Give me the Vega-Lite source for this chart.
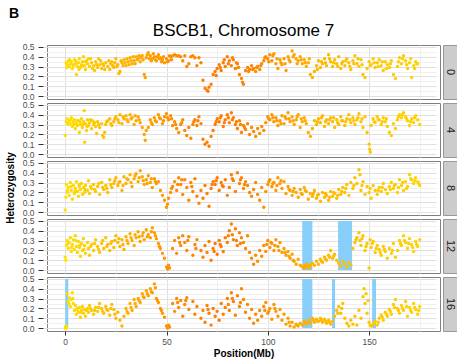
{
"$schema": "https://vega.github.io/schema/vega-lite/v6.json",
"padding": {"left": 5, "top": 7, "right": 0, "bottom": 2},
"title": {"text": "B", "anchor": "start", "frame": "bounds", "fontSize": 14, "fontWeight": "bold", "color": "#000000", "offset": 0, "dx": 4},
"spacing": 4,
"datasets": {
"blue": [
{"g":12,"x":117,"xe":122,"y":0,"ye":0.5},
{"g":12,"x":134.7,"xe":141.6,"y":0,"ye":0.5},
{"g":16,"x":0,"xe":1.5,"y":0,"ye":0.5},
{"g":16,"x":117,"xe":122,"y":0,"ye":0.5},
{"g":16,"x":131.7,"xe":133.2,"y":0,"ye":0.5},
{"g":16,"x":151.5,"xe":153.4,"y":0,"ye":0.5}
],
"g0": [
{"x":0.5,"y":0.34},{"x":1,"y":0.32},{"x":1.5,"y":0.36},{"x":2,"y":0.30},{"x":2.5,"y":0.33},{"x":3,"y":0.35},{"x":3.5,"y":0.28},{"x":4,"y":0.31},{"x":4.5,"y":0.37},{"x":5,"y":0.33},{"x":5.5,"y":0.22},{"x":6,"y":0.30},{"x":6.5,"y":0.34},{"x":7,"y":0.38},{"x":7.5,"y":0.29},{"x":8,"y":0.32},{"x":8.5,"y":0.35},{"x":9,"y":0.40},{"x":9.5,"y":0.31},{"x":10,"y":0.27},{"x":10.5,"y":0.36},{"x":11,"y":0.33},{"x":12,"y":0.30},{"x":12.5,"y":0.38},{"x":13,"y":0.34},{"x":14,"y":0.31},{"x":14.5,"y":0.26},{"x":15,"y":0.35},{"x":16,"y":0.29},{"x":17,"y":0.32},{"x":17.5,"y":0.36},{"x":18,"y":0.28},{"x":19,"y":0.31},{"x":20,"y":0.34},{"x":21,"y":0.30},{"x":22,"y":0.27},{"x":22.5,"y":0.33},{"x":23,"y":0.35},{"x":24,"y":0.29},{"x":25,"y":0.38},{"x":26,"y":0.32},{"x":26.5,"y":0.23},{"x":27,"y":0.25},{"x":28,"y":0.34},{"x":29,"y":0.37},{"x":30,"y":0.31},{"x":31,"y":0.35},{"x":32,"y":0.39},{"x":33,"y":0.33},{"x":34,"y":0.36},{"x":35,"y":0.40},{"x":36,"y":0.38},{"x":37,"y":0.35},{"x":38,"y":0.41},{"x":38.5,"y":0.37},{"x":39,"y":0.22},{"x":39.5,"y":0.19},{"x":40,"y":0.39},{"x":41,"y":0.44},{"x":42,"y":0.41},{"x":43,"y":0.38},{"x":44,"y":0.40},{"x":45,"y":0.36},{"x":46,"y":0.42},{"x":47,"y":0.39},{"x":48,"y":0.37},{"x":49,"y":0.34},{"x":50,"y":0.38},{"x":51,"y":0.36},{"x":52,"y":0.40},{"x":53,"y":0.41},{"x":54,"y":0.42},{"x":55,"y":0.41},{"x":57,"y":0.40},{"x":58,"y":0.36},{"x":59,"y":0.41},{"x":61,"y":0.33},{"x":62,"y":0.40},{"x":63,"y":0.41},{"x":64,"y":0.39},{"x":65,"y":0.31},{"x":67,"y":0.34},{"x":68,"y":0.16},{"x":69,"y":0.08},{"x":70,"y":0.06},{"x":70.5,"y":0.05},{"x":71,"y":0.09},{"x":72,"y":0.12},{"x":73,"y":0.22},{"x":74,"y":0.25},{"x":75,"y":0.28},{"x":76,"y":0.32},{"x":77,"y":0.26},{"x":78,"y":0.34},{"x":79,"y":0.30},{"x":80,"y":0.40},{"x":81,"y":0.36},{"x":82,"y":0.31},{"x":83,"y":0.37},{"x":84,"y":0.28},{"x":85,"y":0.33},{"x":86,"y":0.22},{"x":87,"y":0.18},{"x":87.5,"y":0.14},{"x":88,"y":0.12},{"x":89,"y":0.26},{"x":90,"y":0.29},{"x":91,"y":0.27},{"x":92,"y":0.31},{"x":93,"y":0.28},{"x":94,"y":0.25},{"x":95,"y":0.30},{"x":96,"y":0.27},{"x":97,"y":0.33},{"x":98,"y":0.36},{"x":99,"y":0.40},{"x":100,"y":0.38},{"x":101,"y":0.42},{"x":102,"y":0.36},{"x":103,"y":0.43},{"x":104,"y":0.33},{"x":105,"y":0.28},{"x":106,"y":0.37},{"x":107,"y":0.32},{"x":108,"y":0.38},{"x":109,"y":0.26},{"x":110,"y":0.40},{"x":111,"y":0.35},{"x":112,"y":0.46},{"x":113,"y":0.42},{"x":114,"y":0.38},{"x":115,"y":0.36},{"x":116,"y":0.40},{"x":117,"y":0.33},{"x":118,"y":0.37},{"x":119,"y":0.30},{"x":120,"y":0.34},{"x":121,"y":0.22},{"x":122,"y":0.19},{"x":123,"y":0.25},{"x":124,"y":0.31},{"x":125,"y":0.36},{"x":126,"y":0.29},{"x":127,"y":0.33},{"x":128,"y":0.38},{"x":129,"y":0.31},{"x":130,"y":0.42},{"x":131,"y":0.35},{"x":132,"y":0.30},{"x":133,"y":0.37},{"x":134,"y":0.33},{"x":135,"y":0.40},{"x":136,"y":0.28},{"x":137,"y":0.35},{"x":138,"y":0.31},{"x":139,"y":0.38},{"x":140,"y":0.34},{"x":141,"y":0.27},{"x":142,"y":0.36},{"x":143,"y":0.41},{"x":144,"y":0.33},{"x":145,"y":0.30},{"x":146,"y":0.37},{"x":147,"y":0.22},{"x":148,"y":0.19},{"x":149,"y":0.28},{"x":150,"y":0.35},{"x":151,"y":0.32},{"x":152,"y":0.38},{"x":153,"y":0.29},{"x":154,"y":0.34},{"x":155,"y":0.37},{"x":156,"y":0.31},{"x":157,"y":0.26},{"x":158,"y":0.35},{"x":159,"y":0.32},{"x":160,"y":0.29},{"x":161,"y":0.36},{"x":162,"y":0.22},{"x":163,"y":0.18},{"x":164,"y":0.30},{"x":165,"y":0.39},{"x":166,"y":0.33},{"x":167,"y":0.41},{"x":168,"y":0.36},{"x":169,"y":0.28},{"x":170,"y":0.34},{"x":171,"y":0.19},{"x":172,"y":0.31},{"x":173,"y":0.35},{"x":174,"y":0.33},
{"x":0.8,"y":0.29},{"x":2.2,"y":0.37},{"x":3.8,"y":0.32},{"x":5.2,"y":0.36},{"x":6.8,"y":0.27},{"x":8.2,"y":0.30},{"x":9.8,"y":0.35},{"x":11.5,"y":0.38},{"x":13.5,"y":0.28},{"x":15.5,"y":0.32},{"x":16.5,"y":0.38},{"x":18.5,"y":0.33},{"x":19.5,"y":0.27},{"x":21.5,"y":0.36},{"x":23.5,"y":0.31},{"x":24.5,"y":0.34},{"x":25.5,"y":0.30},{"x":27.5,"y":0.36},{"x":28.5,"y":0.31},{"x":29.5,"y":0.34},{"x":30.5,"y":0.38},{"x":31.5,"y":0.32},{"x":32.5,"y":0.36},{"x":33.5,"y":0.40},{"x":34.5,"y":0.33},{"x":35.5,"y":0.37},{"x":36.5,"y":0.41},{"x":37.5,"y":0.39},{"x":40.5,"y":0.42},{"x":41.5,"y":0.38},{"x":42.5,"y":0.36},{"x":43.5,"y":0.43},{"x":44.5,"y":0.37},{"x":45.5,"y":0.40},{"x":46.5,"y":0.38},{"x":47.5,"y":0.35},{"x":48.5,"y":0.40},{"x":50.5,"y":0.35},{"x":51.5,"y":0.41},{"x":52.5,"y":0.37},{"x":56,"y":0.41},{"x":60,"y":0.30},{"x":66,"y":0.39},{"x":74.5,"y":0.21},{"x":76.5,"y":0.29},{"x":78.5,"y":0.37},{"x":80.5,"y":0.33},{"x":82.5,"y":0.39},{"x":84.5,"y":0.34},{"x":85.5,"y":0.29},{"x":90.5,"y":0.25},{"x":92.5,"y":0.27},{"x":94.5,"y":0.29},{"x":96.5,"y":0.31},{"x":98.5,"y":0.39},{"x":100.5,"y":0.35},{"x":102.5,"y":0.41},{"x":104.5,"y":0.38},{"x":106.5,"y":0.34},{"x":108.5,"y":0.33},{"x":110.5,"y":0.37},{"x":112.5,"y":0.40},{"x":114.5,"y":0.33},{"x":116.5,"y":0.37},{"x":118.5,"y":0.34},{"x":120.5,"y":0.38},{"x":124.5,"y":0.27},{"x":126.5,"y":0.35},{"x":128.5,"y":0.34},{"x":130.5,"y":0.38},{"x":132.5,"y":0.34},{"x":134.5,"y":0.30},{"x":136.5,"y":0.33},{"x":138.5,"y":0.36},{"x":140.5,"y":0.30},{"x":142.5,"y":0.33},{"x":144.5,"y":0.38},{"x":146.5,"y":0.32},{"x":150.5,"y":0.31},{"x":152.5,"y":0.34},{"x":154.5,"y":0.30},{"x":156.5,"y":0.35},{"x":158.5,"y":0.28},{"x":160.5,"y":0.33},{"x":164.5,"y":0.35},{"x":166.5,"y":0.38},{"x":168.5,"y":0.32},{"x":170.5,"y":0.38},{"x":172.5,"y":0.28},{"x":173.5,"y":0.33}
],
"g4": [
{"x":0,"y":0.19},{"x":0.5,"y":0.33},{"x":1,"y":0.36},{"x":1.5,"y":0.30},{"x":2,"y":0.34},{"x":2.5,"y":0.31},{"x":3,"y":0.37},{"x":3.5,"y":0.28},{"x":4,"y":0.33},{"x":4.5,"y":0.35},{"x":5,"y":0.26},{"x":5.5,"y":0.31},{"x":6,"y":0.29},{"x":6.5,"y":0.34},{"x":7,"y":0.22},{"x":7.5,"y":0.30},{"x":8,"y":0.36},{"x":8.5,"y":0.27},{"x":9,"y":0.33},{"x":9.4,"y":0.44},{"x":9.6,"y":0.12},{"x":10,"y":0.31},{"x":10.5,"y":0.24},{"x":11,"y":0.35},{"x":11.5,"y":0.29},{"x":12,"y":0.32},{"x":13,"y":0.26},{"x":13.5,"y":0.34},{"x":14,"y":0.30},{"x":15,"y":0.28},{"x":15.5,"y":0.21},{"x":16,"y":0.33},{"x":17,"y":0.27},{"x":18,"y":0.31},{"x":18.5,"y":0.19},{"x":19,"y":0.17},{"x":19.5,"y":0.22},{"x":20,"y":0.30},{"x":21,"y":0.34},{"x":22,"y":0.36},{"x":23,"y":0.29},{"x":24,"y":0.33},{"x":25,"y":0.38},{"x":26,"y":0.35},{"x":27,"y":0.40},{"x":28,"y":0.31},{"x":29,"y":0.36},{"x":30,"y":0.39},{"x":31,"y":0.33},{"x":32,"y":0.40},{"x":33,"y":0.37},{"x":34,"y":0.30},{"x":35,"y":0.34},{"x":36,"y":0.38},{"x":37,"y":0.32},{"x":38,"y":0.27},{"x":39,"y":0.20},{"x":39.5,"y":0.14},{"x":40,"y":0.24},{"x":41,"y":0.27},{"x":42,"y":0.35},{"x":43,"y":0.30},{"x":44,"y":0.37},{"x":45,"y":0.33},{"x":46,"y":0.40},{"x":47,"y":0.36},{"x":48,"y":0.31},{"x":49,"y":0.38},{"x":50,"y":0.41},{"x":51,"y":0.35},{"x":52,"y":0.39},{"x":53,"y":0.29},{"x":54,"y":0.33},{"x":55,"y":0.26},{"x":56,"y":0.22},{"x":57,"y":0.30},{"x":58,"y":0.35},{"x":59,"y":0.24},{"x":60,"y":0.19},{"x":61,"y":0.27},{"x":62,"y":0.16},{"x":63,"y":0.30},{"x":64,"y":0.35},{"x":65,"y":0.29},{"x":66,"y":0.38},{"x":67,"y":0.31},{"x":68,"y":0.15},{"x":69,"y":0.10},{"x":70,"y":0.12},{"x":71,"y":0.08},{"x":72,"y":0.18},{"x":73,"y":0.24},{"x":74,"y":0.30},{"x":75,"y":0.36},{"x":76,"y":0.33},{"x":77,"y":0.39},{"x":78,"y":0.28},{"x":79,"y":0.35},{"x":80,"y":0.40},{"x":81,"y":0.32},{"x":82,"y":0.42},{"x":83,"y":0.37},{"x":84,"y":0.30},{"x":85,"y":0.26},{"x":86,"y":0.34},{"x":87,"y":0.22},{"x":88,"y":0.29},{"x":89,"y":0.25},{"x":90,"y":0.31},{"x":91,"y":0.20},{"x":92,"y":0.27},{"x":93,"y":0.23},{"x":94,"y":0.18},{"x":95,"y":0.26},{"x":96,"y":0.21},{"x":97,"y":0.28},{"x":98,"y":0.24},{"x":99,"y":0.32},{"x":100,"y":0.38},{"x":101,"y":0.35},{"x":102,"y":0.40},{"x":103,"y":0.33},{"x":104,"y":0.37},{"x":105,"y":0.29},{"x":106,"y":0.34},{"x":107,"y":0.39},{"x":108,"y":0.31},{"x":109,"y":0.36},{"x":110,"y":0.42},{"x":111,"y":0.33},{"x":112,"y":0.38},{"x":113,"y":0.30},{"x":114,"y":0.35},{"x":115,"y":0.40},{"x":116,"y":0.27},{"x":117,"y":0.33},{"x":118,"y":0.37},{"x":119,"y":0.31},{"x":120,"y":0.22},{"x":121,"y":0.18},{"x":122,"y":0.26},{"x":123,"y":0.34},{"x":124,"y":0.30},{"x":125,"y":0.36},{"x":126,"y":0.32},{"x":127,"y":0.39},{"x":128,"y":0.28},{"x":129,"y":0.35},{"x":130,"y":0.31},{"x":131,"y":0.37},{"x":132,"y":0.33},{"x":133,"y":0.27},{"x":134,"y":0.35},{"x":135,"y":0.30},{"x":136,"y":0.38},{"x":137,"y":0.34},{"x":138,"y":0.29},{"x":139,"y":0.36},{"x":140,"y":0.40},{"x":141,"y":0.32},{"x":142,"y":0.37},{"x":143,"y":0.30},{"x":144,"y":0.35},{"x":145,"y":0.41},{"x":146,"y":0.33},{"x":147,"y":0.27},{"x":148,"y":0.38},{"x":149,"y":0.22},{"x":150,"y":0.10},{"x":150.3,"y":0.05},{"x":150.6,"y":0.02},{"x":151,"y":0.29},{"x":152,"y":0.36},{"x":153,"y":0.32},{"x":154,"y":0.38},{"x":155,"y":0.35},{"x":156,"y":0.30},{"x":157,"y":0.37},{"x":158,"y":0.33},{"x":159,"y":0.28},{"x":160,"y":0.22},{"x":161,"y":0.19},{"x":162,"y":0.31},{"x":163,"y":0.26},{"x":164,"y":0.35},{"x":165,"y":0.40},{"x":166,"y":0.37},{"x":167,"y":0.42},{"x":168,"y":0.38},{"x":169,"y":0.34},{"x":170,"y":0.29},{"x":171,"y":0.36},{"x":172,"y":0.32},{"x":173,"y":0.39},{"x":174,"y":0.35},{"x":175,"y":0.30},
{"x":1.2,"y":0.31},{"x":2.8,"y":0.35},{"x":4.2,"y":0.30},{"x":5.8,"y":0.34},{"x":7.2,"y":0.33},{"x":8.8,"y":0.30},{"x":10.8,"y":0.28},{"x":12.5,"y":0.35},{"x":14.5,"y":0.32},{"x":16.5,"y":0.30},{"x":20.5,"y":0.33},{"x":22.5,"y":0.31},{"x":24.5,"y":0.36},{"x":26.5,"y":0.32},{"x":28.5,"y":0.38},{"x":30.5,"y":0.35},{"x":32.5,"y":0.36},{"x":34.5,"y":0.39},{"x":36.5,"y":0.35},{"x":42.5,"y":0.32},{"x":44.5,"y":0.34},{"x":46.5,"y":0.37},{"x":48.5,"y":0.34},{"x":50.5,"y":0.37},{"x":52.5,"y":0.36},{"x":54.5,"y":0.30},{"x":57.5,"y":0.32},{"x":63.5,"y":0.33},{"x":65.5,"y":0.34},{"x":74.5,"y":0.33},{"x":76.5,"y":0.37},{"x":78.5,"y":0.32},{"x":80.5,"y":0.37},{"x":82.5,"y":0.35},{"x":84.5,"y":0.33},{"x":86.5,"y":0.30},{"x":88.5,"y":0.27},{"x":100.5,"y":0.36},{"x":102.5,"y":0.37},{"x":104.5,"y":0.34},{"x":106.5,"y":0.31},{"x":108.5,"y":0.38},{"x":110.5,"y":0.36},{"x":112.5,"y":0.34},{"x":114.5,"y":0.38},{"x":116.5,"y":0.36},{"x":118.5,"y":0.34},{"x":124.5,"y":0.33},{"x":126.5,"y":0.37},{"x":128.5,"y":0.33},{"x":130.5,"y":0.35},{"x":132.5,"y":0.37},{"x":134.5,"y":0.32},{"x":136.5,"y":0.34},{"x":138.5,"y":0.33},{"x":140.5,"y":0.35},{"x":142.5,"y":0.34},{"x":144.5,"y":0.37},{"x":146.5,"y":0.36},{"x":152.5,"y":0.33},{"x":154.5,"y":0.35},{"x":156.5,"y":0.33},{"x":158.5,"y":0.36},{"x":164.5,"y":0.38},{"x":166.5,"y":0.40},{"x":168.5,"y":0.36},{"x":170.5,"y":0.33},{"x":172.5,"y":0.37}
],
"g8": [
{"x":0,"y":0.02},{"x":0.3,"y":0.15},{"x":0.6,"y":0.28},{"x":1,"y":0.20},{"x":1.5,"y":0.25},{"x":2,"y":0.17},{"x":2.5,"y":0.30},{"x":3,"y":0.22},{"x":3.5,"y":0.13},{"x":4,"y":0.27},{"x":4.5,"y":0.19},{"x":5,"y":0.24},{"x":5.5,"y":0.31},{"x":6,"y":0.21},{"x":6.5,"y":0.16},{"x":7,"y":0.26},{"x":7.5,"y":0.23},{"x":8,"y":0.29},{"x":8.5,"y":0.18},{"x":9,"y":0.25},{"x":9.5,"y":0.20},{"x":10,"y":0.27},{"x":11,"y":0.22},{"x":11.5,"y":0.32},{"x":12,"y":0.19},{"x":13,"y":0.24},{"x":14,"y":0.28},{"x":15,"y":0.21},{"x":16,"y":0.26},{"x":17,"y":0.18},{"x":18,"y":0.30},{"x":19,"y":0.23},{"x":20,"y":0.27},{"x":21,"y":0.20},{"x":22,"y":0.33},{"x":23,"y":0.25},{"x":24,"y":0.29},{"x":25,"y":0.35},{"x":26,"y":0.27},{"x":27,"y":0.31},{"x":28,"y":0.22},{"x":29,"y":0.36},{"x":30,"y":0.29},{"x":31,"y":0.33},{"x":32,"y":0.38},{"x":33,"y":0.26},{"x":34,"y":0.34},{"x":35,"y":0.39},{"x":36,"y":0.31},{"x":37,"y":0.42},{"x":38,"y":0.36},{"x":39,"y":0.28},{"x":40,"y":0.33},{"x":41,"y":0.37},{"x":42,"y":0.30},{"x":43,"y":0.25},{"x":44,"y":0.34},{"x":45,"y":0.29},{"x":46,"y":0.31},{"x":47,"y":0.22},{"x":48,"y":0.17},{"x":49,"y":0.12},{"x":50,"y":0.05},{"x":50.5,"y":0.08},{"x":51,"y":0.14},{"x":52,"y":0.20},{"x":53,"y":0.26},{"x":54,"y":0.31},{"x":55,"y":0.22},{"x":56,"y":0.35},{"x":57,"y":0.28},{"x":58,"y":0.18},{"x":59,"y":0.33},{"x":60,"y":0.25},{"x":61,"y":0.12},{"x":62,"y":0.30},{"x":63,"y":0.21},{"x":64,"y":0.34},{"x":65,"y":0.16},{"x":66,"y":0.09},{"x":67,"y":0.22},{"x":68,"y":0.14},{"x":69,"y":0.27},{"x":70,"y":0.19},{"x":71,"y":0.06},{"x":72,"y":0.24},{"x":73,"y":0.31},{"x":74,"y":0.28},{"x":75,"y":0.35},{"x":76,"y":0.22},{"x":77,"y":0.30},{"x":78,"y":0.26},{"x":79,"y":0.33},{"x":80,"y":0.17},{"x":81,"y":0.25},{"x":82,"y":0.38},{"x":83,"y":0.32},{"x":84,"y":0.21},{"x":85,"y":0.40},{"x":86,"y":0.29},{"x":87,"y":0.35},{"x":88,"y":0.24},{"x":89,"y":0.31},{"x":90,"y":0.27},{"x":91,"y":0.20},{"x":92,"y":0.16},{"x":93,"y":0.23},{"x":94,"y":0.30},{"x":95,"y":0.18},{"x":96,"y":0.12},{"x":97,"y":0.25},{"x":98,"y":0.05},{"x":99,"y":0.21},{"x":100,"y":0.28},{"x":101,"y":0.33},{"x":102,"y":0.26},{"x":103,"y":0.30},{"x":104,"y":0.22},{"x":105,"y":0.35},{"x":106,"y":0.29},{"x":107,"y":0.24},{"x":108,"y":0.31},{"x":109,"y":0.19},{"x":110,"y":0.26},{"x":111,"y":0.22},{"x":112,"y":0.17},{"x":113,"y":0.24},{"x":114,"y":0.20},{"x":115,"y":0.15},{"x":116,"y":0.23},{"x":117,"y":0.18},{"x":118,"y":0.25},{"x":119,"y":0.21},{"x":120,"y":0.13},{"x":121,"y":0.19},{"x":122,"y":0.16},{"x":123,"y":0.22},{"x":124,"y":0.14},{"x":125,"y":0.18},{"x":126,"y":0.11},{"x":127,"y":0.20},{"x":128,"y":0.15},{"x":129,"y":0.17},{"x":130,"y":0.12},{"x":131,"y":0.21},{"x":132,"y":0.16},{"x":133,"y":0.19},{"x":134,"y":0.14},{"x":135,"y":0.23},{"x":136,"y":0.18},{"x":137,"y":0.25},{"x":138,"y":0.20},{"x":139,"y":0.28},{"x":140,"y":0.17},{"x":141,"y":0.30},{"x":142,"y":0.24},{"x":143,"y":0.35},{"x":144,"y":0.29},{"x":145,"y":0.43},{"x":145.5,"y":0.38},{"x":146,"y":0.22},{"x":147,"y":0.31},{"x":148,"y":0.18},{"x":149,"y":0.26},{"x":150,"y":0.20},{"x":151,"y":0.14},{"x":152,"y":0.27},{"x":153,"y":0.22},{"x":154,"y":0.18},{"x":155,"y":0.25},{"x":156,"y":0.21},{"x":157,"y":0.29},{"x":158,"y":0.23},{"x":159,"y":0.19},{"x":160,"y":0.26},{"x":161,"y":0.30},{"x":162,"y":0.24},{"x":163,"y":0.28},{"x":164,"y":0.20},{"x":165,"y":0.33},{"x":166,"y":0.27},{"x":167,"y":0.22},{"x":168,"y":0.31},{"x":169,"y":0.26},{"x":170,"y":0.38},{"x":171,"y":0.33},{"x":172,"y":0.29},{"x":173,"y":0.35},{"x":174,"y":0.31},{"x":175,"y":0.27},
{"x":1.2,"y":0.22},{"x":2.8,"y":0.26},{"x":4.8,"y":0.21},{"x":6.8,"y":0.28},{"x":9.8,"y":0.23},{"x":12.5,"y":0.26},{"x":14.5,"y":0.23},{"x":16.5,"y":0.29},{"x":18.5,"y":0.25},{"x":20.5,"y":0.24},{"x":22.5,"y":0.28},{"x":24.5,"y":0.32},{"x":26.5,"y":0.30},{"x":28.5,"y":0.27},{"x":30.5,"y":0.34},{"x":32.5,"y":0.30},{"x":34.5,"y":0.37},{"x":36.5,"y":0.35},{"x":38.5,"y":0.32},{"x":40.5,"y":0.29},{"x":42.5,"y":0.34},{"x":44.5,"y":0.31},{"x":52.5,"y":0.24},{"x":55.5,"y":0.28},{"x":57.5,"y":0.33},{"x":62.5,"y":0.26},{"x":72.5,"y":0.28},{"x":74.5,"y":0.32},{"x":77.5,"y":0.27},{"x":82.5,"y":0.34},{"x":86.5,"y":0.33},{"x":88.5,"y":0.28},{"x":100.5,"y":0.31},{"x":102.5,"y":0.29},{"x":104.5,"y":0.27},{"x":106.5,"y":0.32},{"x":110.5,"y":0.23},{"x":112.5,"y":0.21},{"x":116.5,"y":0.19},{"x":118.5,"y":0.22},{"x":122.5,"y":0.19},{"x":124.5,"y":0.17},{"x":128.5,"y":0.19},{"x":130.5,"y":0.15},{"x":132.5,"y":0.20},{"x":134.5,"y":0.17},{"x":136.5,"y":0.21},{"x":138.5,"y":0.24},{"x":142.5,"y":0.27},{"x":146.5,"y":0.27},{"x":150.5,"y":0.24},{"x":154.5,"y":0.22},{"x":156.5,"y":0.25},{"x":160.5,"y":0.23},{"x":162.5,"y":0.27},{"x":164.5,"y":0.25},{"x":166.5,"y":0.30},{"x":168.5,"y":0.24},{"x":170.5,"y":0.34},{"x":172.5,"y":0.32},{"x":174.5,"y":0.29}
],
"g12": [
{"x":0,"y":0.13},{"x":0.3,"y":0.10},{"x":0.6,"y":0.25},{"x":1,"y":0.30},{"x":1.5,"y":0.22},{"x":2,"y":0.28},{"x":2.5,"y":0.33},{"x":3,"y":0.19},{"x":3.5,"y":0.26},{"x":4,"y":0.31},{"x":4.5,"y":0.21},{"x":5,"y":0.35},{"x":5.5,"y":0.24},{"x":6,"y":0.18},{"x":6.5,"y":0.29},{"x":7,"y":0.23},{"x":7.5,"y":0.14},{"x":8,"y":0.27},{"x":8.5,"y":0.20},{"x":9,"y":0.32},{"x":9.5,"y":0.25},{"x":10,"y":0.17},{"x":11,"y":0.28},{"x":11.5,"y":0.22},{"x":12,"y":0.15},{"x":13,"y":0.26},{"x":14,"y":0.20},{"x":15,"y":0.31},{"x":16,"y":0.24},{"x":17,"y":0.18},{"x":18,"y":0.27},{"x":19,"y":0.22},{"x":20,"y":0.33},{"x":21,"y":0.26},{"x":22,"y":0.20},{"x":23,"y":0.29},{"x":24,"y":0.23},{"x":25,"y":0.35},{"x":26,"y":0.28},{"x":27,"y":0.24},{"x":28,"y":0.31},{"x":29,"y":0.21},{"x":30,"y":0.34},{"x":31,"y":0.27},{"x":32,"y":0.37},{"x":33,"y":0.30},{"x":34,"y":0.25},{"x":35,"y":0.33},{"x":36,"y":0.39},{"x":37,"y":0.29},{"x":38,"y":0.35},{"x":39,"y":0.31},{"x":40,"y":0.41},{"x":41,"y":0.36},{"x":42,"y":0.33},{"x":43,"y":0.43},{"x":44,"y":0.38},{"x":45,"y":0.32},{"x":46,"y":0.27},{"x":47,"y":0.22},{"x":48,"y":0.17},{"x":49,"y":0.12},{"x":50,"y":0.03},{"x":50.5,"y":0.01},{"x":51,"y":0.05},{"x":51.5,"y":0.02},{"x":53,"y":0.22},{"x":54,"y":0.30},{"x":55,"y":0.17},{"x":56,"y":0.33},{"x":57,"y":0.25},{"x":58,"y":0.35},{"x":59,"y":0.28},{"x":60,"y":0.20},{"x":61,"y":0.34},{"x":63,"y":0.15},{"x":64,"y":0.26},{"x":65,"y":0.31},{"x":67,"y":0.20},{"x":68,"y":0.13},{"x":69,"y":0.25},{"x":70,"y":0.18},{"x":71,"y":0.29},{"x":72,"y":0.10},{"x":73,"y":0.22},{"x":74,"y":0.27},{"x":75,"y":0.16},{"x":76,"y":0.30},{"x":77,"y":0.24},{"x":78,"y":0.19},{"x":79,"y":0.33},{"x":80,"y":0.28},{"x":81,"y":0.40},{"x":82,"y":0.47},{"x":82.5,"y":0.36},{"x":83,"y":0.31},{"x":84,"y":0.42},{"x":85,"y":0.25},{"x":86,"y":0.38},{"x":87,"y":0.33},{"x":88,"y":0.28},{"x":89,"y":0.22},{"x":90,"y":0.35},{"x":91,"y":0.18},{"x":92,"y":0.12},{"x":93,"y":0.06},{"x":94,"y":0.15},{"x":95,"y":0.09},{"x":96,"y":0.20},{"x":97,"y":0.14},{"x":98,"y":0.25},{"x":99,"y":0.19},{"x":100,"y":0.30},{"x":101,"y":0.23},{"x":102,"y":0.27},{"x":103,"y":0.20},{"x":104,"y":0.31},{"x":105,"y":0.24},{"x":106,"y":0.28},{"x":107,"y":0.18},{"x":108,"y":0.22},{"x":109,"y":0.15},{"x":110,"y":0.19},{"x":111,"y":0.12},{"x":112,"y":0.16},{"x":113,"y":0.09},{"x":114,"y":0.06},{"x":115,"y":0.11},{"x":116,"y":0.05},{"x":117,"y":0.03},{"x":117.5,"y":0.04},{"x":118,"y":0.02},{"x":118.5,"y":0.05},{"x":119,"y":0.03},{"x":119.5,"y":0.06},{"x":120,"y":0.04},{"x":120.5,"y":0.02},{"x":121,"y":0.05},{"x":122,"y":0.07},{"x":123,"y":0.05},{"x":124,"y":0.09},{"x":125,"y":0.06},{"x":126,"y":0.11},{"x":127,"y":0.08},{"x":128,"y":0.13},{"x":129,"y":0.10},{"x":130,"y":0.15},{"x":131,"y":0.20},{"x":132,"y":0.12},{"x":133,"y":0.16},{"x":134,"y":0.10},{"x":135,"y":0.07},{"x":136,"y":0.04},{"x":137,"y":0.09},{"x":138,"y":0.06},{"x":139,"y":0.03},{"x":140,"y":0.08},{"x":141,"y":0.05},{"x":142,"y":0.22},{"x":143,"y":0.28},{"x":144,"y":0.33},{"x":145,"y":0.38},{"x":145.5,"y":0.30},{"x":146,"y":0.25},{"x":147,"y":0.35},{"x":148,"y":0.20},{"x":149,"y":0.27},{"x":150,"y":0.02},{"x":150.5,"y":0.31},{"x":151,"y":0.23},{"x":152,"y":0.29},{"x":153,"y":0.18},{"x":154,"y":0.25},{"x":155,"y":0.21},{"x":156,"y":0.15},{"x":157,"y":0.24},{"x":158,"y":0.19},{"x":159,"y":0.12},{"x":160,"y":0.22},{"x":161,"y":0.17},{"x":162,"y":0.27},{"x":163,"y":0.13},{"x":164,"y":0.20},{"x":165,"y":0.30},{"x":166,"y":0.25},{"x":167,"y":0.35},{"x":168,"y":0.28},{"x":169,"y":0.22},{"x":170,"y":0.32},{"x":171,"y":0.26},{"x":172,"y":0.19},{"x":173,"y":0.29},{"x":174,"y":0.24},{"x":175,"y":0.31},
{"x":1.2,"y":0.27},{"x":3.2,"y":0.23},{"x":5.2,"y":0.30},{"x":7.2,"y":0.25},{"x":9.2,"y":0.21},{"x":12.5,"y":0.24},{"x":14.5,"y":0.27},{"x":16.5,"y":0.21},{"x":18.5,"y":0.30},{"x":20.5,"y":0.24},{"x":22.5,"y":0.27},{"x":24.5,"y":0.30},{"x":26.5,"y":0.32},{"x":28.5,"y":0.26},{"x":30.5,"y":0.30},{"x":32.5,"y":0.33},{"x":34.5,"y":0.36},{"x":36.5,"y":0.34},{"x":38.5,"y":0.38},{"x":40.5,"y":0.34},{"x":42.5,"y":0.39},{"x":44.5,"y":0.35},{"x":46.5,"y":0.24},{"x":56.5,"y":0.28},{"x":60.5,"y":0.30},{"x":64.5,"y":0.22},{"x":73.5,"y":0.19},{"x":76.5,"y":0.26},{"x":80.5,"y":0.35},{"x":84.5,"y":0.30},{"x":86.5,"y":0.27},{"x":99.5,"y":0.26},{"x":101.5,"y":0.28},{"x":103.5,"y":0.25},{"x":105.5,"y":0.20},{"x":108.5,"y":0.18},{"x":110.5,"y":0.14},{"x":112.5,"y":0.10},{"x":126.5,"y":0.09},{"x":128.5,"y":0.11},{"x":130.5,"y":0.13},{"x":132.5,"y":0.14},{"x":143.5,"y":0.31},{"x":146.5,"y":0.32},{"x":148.5,"y":0.24},{"x":151.5,"y":0.27},{"x":153.5,"y":0.22},{"x":155.5,"y":0.18},{"x":157.5,"y":0.21},{"x":161.5,"y":0.20},{"x":165.5,"y":0.27},{"x":167.5,"y":0.30},{"x":169.5,"y":0.27},{"x":171.5,"y":0.23},{"x":173.5,"y":0.26}
],
"g16": [
{"x":0,"y":0.0},{"x":0.2,"y":0.01},{"x":0.4,"y":0.02},{"x":0.6,"y":0.0},{"x":1,"y":0.35},{"x":1.5,"y":0.27},{"x":2,"y":0.31},{"x":2.5,"y":0.22},{"x":3,"y":0.29},{"x":3.5,"y":0.36},{"x":4,"y":0.25},{"x":4.5,"y":0.18},{"x":5,"y":0.23},{"x":5.5,"y":0.14},{"x":6,"y":0.20},{"x":6.5,"y":0.16},{"x":7,"y":0.21},{"x":7.5,"y":0.11},{"x":8,"y":0.18},{"x":8.5,"y":0.22},{"x":9,"y":0.15},{"x":9.5,"y":0.19},{"x":10,"y":0.12},{"x":11,"y":0.20},{"x":11.5,"y":0.16},{"x":12,"y":0.23},{"x":13,"y":0.18},{"x":14,"y":0.14},{"x":15,"y":0.21},{"x":16,"y":0.17},{"x":17,"y":0.25},{"x":18,"y":0.20},{"x":19,"y":0.15},{"x":20,"y":0.22},{"x":21,"y":0.18},{"x":22,"y":0.13},{"x":23,"y":0.24},{"x":24,"y":0.19},{"x":25,"y":0.10},{"x":26,"y":0.16},{"x":27,"y":0.08},{"x":28,"y":0.02},{"x":29,"y":0.12},{"x":30,"y":0.20},{"x":31,"y":0.15},{"x":32,"y":0.25},{"x":33,"y":0.18},{"x":34,"y":0.29},{"x":35,"y":0.22},{"x":36,"y":0.30},{"x":37,"y":0.26},{"x":38,"y":0.35},{"x":39,"y":0.31},{"x":40,"y":0.38},{"x":41,"y":0.33},{"x":42,"y":0.40},{"x":43,"y":0.36},{"x":44,"y":0.45},{"x":44.5,"y":0.41},{"x":45,"y":0.30},{"x":46,"y":0.26},{"x":47,"y":0.20},{"x":48,"y":0.15},{"x":49,"y":0.11},{"x":50,"y":0.02},{"x":50.5,"y":0.0},{"x":51,"y":0.03},{"x":51.5,"y":0.01},{"x":53,"y":0.25},{"x":54,"y":0.17},{"x":55,"y":0.30},{"x":56,"y":0.21},{"x":57,"y":0.28},{"x":58,"y":0.12},{"x":59,"y":0.24},{"x":60,"y":0.31},{"x":61,"y":0.19},{"x":63,"y":0.27},{"x":64,"y":0.14},{"x":65,"y":0.22},{"x":67,"y":0.10},{"x":68,"y":0.18},{"x":69,"y":0.06},{"x":70,"y":0.23},{"x":71,"y":0.15},{"x":72,"y":0.03},{"x":73,"y":0.20},{"x":74,"y":0.12},{"x":75,"y":0.17},{"x":76,"y":0.08},{"x":77,"y":0.25},{"x":78,"y":0.14},{"x":79,"y":0.21},{"x":80,"y":0.30},{"x":81,"y":0.18},{"x":82,"y":0.36},{"x":83,"y":0.27},{"x":84,"y":0.13},{"x":85,"y":0.33},{"x":86,"y":0.22},{"x":87,"y":0.40},{"x":88,"y":0.29},{"x":89,"y":0.16},{"x":90,"y":0.24},{"x":91,"y":0.10},{"x":92,"y":0.19},{"x":93,"y":0.05},{"x":94,"y":0.14},{"x":95,"y":0.08},{"x":96,"y":0.18},{"x":97,"y":0.12},{"x":98,"y":0.22},{"x":99,"y":0.26},{"x":100,"y":0.15},{"x":101,"y":0.20},{"x":102,"y":0.09},{"x":103,"y":0.24},{"x":104,"y":0.17},{"x":105,"y":0.12},{"x":106,"y":0.19},{"x":107,"y":0.08},{"x":108,"y":0.14},{"x":109,"y":0.04},{"x":110,"y":0.10},{"x":111,"y":0.02},{"x":112,"y":0.06},{"x":113,"y":0.01},{"x":114,"y":0.04},{"x":115,"y":0.02},{"x":116,"y":0.05},{"x":117,"y":0.03},{"x":118,"y":0.07},{"x":119,"y":0.04},{"x":120,"y":0.08},{"x":121,"y":0.05},{"x":122,"y":0.10},{"x":123,"y":0.06},{"x":124,"y":0.09},{"x":125,"y":0.07},{"x":126,"y":0.10},{"x":127,"y":0.06},{"x":128,"y":0.09},{"x":129,"y":0.05},{"x":130,"y":0.08},{"x":131,"y":0.04},{"x":132,"y":0.07},{"x":133,"y":0.12},{"x":134,"y":0.18},{"x":135,"y":0.22},{"x":136,"y":0.15},{"x":137,"y":0.25},{"x":138,"y":0.10},{"x":139,"y":0.05},{"x":140,"y":0.02},{"x":141,"y":0.08},{"x":142,"y":0.04},{"x":143,"y":0.12},{"x":144,"y":0.03},{"x":145,"y":0.18},{"x":146,"y":0.10},{"x":147,"y":0.32},{"x":147.5,"y":0.40},{"x":148,"y":0.25},{"x":148.5,"y":0.35},{"x":149,"y":0.15},{"x":149.5,"y":0.28},{"x":150,"y":0.06},{"x":151,"y":0.02},{"x":152,"y":0.04},{"x":153,"y":0.07},{"x":154,"y":0.03},{"x":155,"y":0.10},{"x":156,"y":0.13},{"x":157,"y":0.08},{"x":158,"y":0.16},{"x":159,"y":0.12},{"x":160,"y":0.19},{"x":161,"y":0.14},{"x":162,"y":0.24},{"x":163,"y":0.29},{"x":164,"y":0.20},{"x":165,"y":0.15},{"x":166,"y":0.23},{"x":167,"y":0.18},{"x":168,"y":0.27},{"x":169,"y":0.12},{"x":170,"y":0.21},{"x":171,"y":0.16},{"x":172,"y":0.25},{"x":173,"y":0.19},{"x":174,"y":0.14},{"x":175,"y":0.22},
{"x":1.8,"y":0.25},{"x":3.8,"y":0.30},{"x":5.8,"y":0.19},{"x":7.8,"y":0.16},{"x":10.5,"y":0.18},{"x":12.5,"y":0.20},{"x":14.5,"y":0.18},{"x":16.5,"y":0.21},{"x":18.5,"y":0.17},{"x":20.5,"y":0.19},{"x":22.5,"y":0.20},{"x":24.5,"y":0.14},{"x":30.5,"y":0.17},{"x":32.5,"y":0.21},{"x":34.5,"y":0.25},{"x":36.5,"y":0.28},{"x":38.5,"y":0.32},{"x":40.5,"y":0.35},{"x":42.5,"y":0.37},{"x":45.5,"y":0.28},{"x":47.5,"y":0.18},{"x":55.5,"y":0.26},{"x":59.5,"y":0.28},{"x":70.5,"y":0.19},{"x":80.5,"y":0.24},{"x":82.5,"y":0.30},{"x":86.5,"y":0.26},{"x":98.5,"y":0.18},{"x":100.5,"y":0.17},{"x":103.5,"y":0.20},{"x":110.5,"y":0.06},{"x":114.5,"y":0.03},{"x":118.5,"y":0.05},{"x":120.5,"y":0.06},{"x":122.5,"y":0.08},{"x":124.5,"y":0.07},{"x":126.5,"y":0.08},{"x":128.5,"y":0.07},{"x":130.5,"y":0.06},{"x":134.5,"y":0.15},{"x":136.5,"y":0.20},{"x":150.5,"y":0.03},{"x":152.5,"y":0.05},{"x":154.5,"y":0.06},{"x":156.5,"y":0.11},{"x":158.5,"y":0.14},{"x":160.5,"y":0.17},{"x":162.5,"y":0.21},{"x":164.5,"y":0.18},{"x":166.5,"y":0.20},{"x":168.5,"y":0.22},{"x":170.5,"y":0.18},{"x":172.5,"y":0.21},{"x":174.5,"y":0.18}
]
},
"hconcat": [
{"width": 12, "height": 286, "data": {"values": [{"t": "Heterozygosity"}]}, "mark": {"type": "text", "angle": 270, "fontSize": 10, "fontWeight": "bold", "color": "#000000"}, "encoding": {"text": {"field": "t"}}, "view": {"stroke": null}},
{"spacing": -2, "vconcat": [
{"hconcat": [
{"width": 393, "height": 54,
 "title": {"text": "BSCB1, Chromosome 7", "fontSize": 17, "fontWeight": "normal", "anchor": "middle", "offset": 3, "color": "#000000"},
 "data": {"name": "g0"},
 "mark": {"type": "circle", "size": 12, "opacity": 1},
 "encoding": {
  "x": {"field": "x", "type": "quantitative", "scale": {"domain": [-9, 185], "nice": false, "zero": false}, "axis": {"values": [0,25,50,75,100,125,150,175], "labels": false, "ticks": false, "domain": false, "title": null, "gridColor": {"condition": {"test": "datum.value % 50 === 0", "value": "#e0e0e0"}, "value": "#f0f0f0"}}},
  "y": {"field": "y", "type": "quantitative", "scale": {"domain": [-0.03, 0.52], "nice": false, "zero": false}, "axis": {"values": [0,0.05,0.1,0.15,0.2,0.25,0.3,0.35,0.4,0.45,0.5], "labelExpr": "round(datum.value*20) % 2 === 0 ? format(datum.value, '.1f') : ''", "tickOpacity": {"condition": {"test": "round(datum.value*20) % 2 === 0", "value": 1}, "value": 0}, "gridColor": {"condition": {"test": "round(datum.value*20) % 2 === 0", "value": "#e0e0e0"}, "value": "#f0f0f0"}, "title": null}},
  "color": {"field": "x", "type": "quantitative", "scale": {"domain": [0,15,35,55,75,95,110,125,150,175], "range": ["#FFE000","#FFC800","#FFAA00","#FF8C00","#FF7A00","#FF8A00","#FFA000","#FFB800","#FFC800","#FFD400"]}, "legend": null}
 }},
{"width": 14, "height": 54, "data": {"values": [{"gen": "0"}]}, "mark": {"type": "text", "angle": 90, "fontSize": 11, "color": "#1a1a1a"}, "encoding": {"text": {"field": "gen"}}, "view": {"fill": "#cccccc", "stroke": "#999999"}}
], "spacing": 1},
{"hconcat": [
{"width": 393, "height": 54,
 "data": {"name": "g4"},
 "mark": {"type": "circle", "size": 12, "opacity": 1},
 "encoding": {
  "x": {"field": "x", "type": "quantitative", "scale": {"domain": [-9, 185], "nice": false, "zero": false}, "axis": {"values": [0,25,50,75,100,125,150,175], "labels": false, "ticks": false, "domain": false, "title": null, "gridColor": {"condition": {"test": "datum.value % 50 === 0", "value": "#e0e0e0"}, "value": "#f0f0f0"}}},
  "y": {"field": "y", "type": "quantitative", "scale": {"domain": [-0.03, 0.52], "nice": false, "zero": false}, "axis": {"values": [0,0.05,0.1,0.15,0.2,0.25,0.3,0.35,0.4,0.45,0.5], "labelExpr": "round(datum.value*20) % 2 === 0 ? format(datum.value, '.1f') : ''", "tickOpacity": {"condition": {"test": "round(datum.value*20) % 2 === 0", "value": 1}, "value": 0}, "gridColor": {"condition": {"test": "round(datum.value*20) % 2 === 0", "value": "#e0e0e0"}, "value": "#f0f0f0"}, "title": null}},
  "color": {"field": "x", "type": "quantitative", "scale": {"domain": [0,15,35,55,75,95,110,125,150,175], "range": ["#FFE000","#FFC800","#FFAA00","#FF8C00","#FF7A00","#FF8A00","#FFA000","#FFB800","#FFC800","#FFD400"]}, "legend": null}
 }},
{"width": 14, "height": 54, "data": {"values": [{"gen": "4"}]}, "mark": {"type": "text", "angle": 90, "fontSize": 11, "color": "#1a1a1a"}, "encoding": {"text": {"field": "gen"}}, "view": {"fill": "#cccccc", "stroke": "#999999"}}
], "spacing": 1},
{"hconcat": [
{"width": 393, "height": 54,
 "data": {"name": "g8"},
 "mark": {"type": "circle", "size": 12, "opacity": 1},
 "encoding": {
  "x": {"field": "x", "type": "quantitative", "scale": {"domain": [-9, 185], "nice": false, "zero": false}, "axis": {"values": [0,25,50,75,100,125,150,175], "labels": false, "ticks": false, "domain": false, "title": null, "gridColor": {"condition": {"test": "datum.value % 50 === 0", "value": "#e0e0e0"}, "value": "#f0f0f0"}}},
  "y": {"field": "y", "type": "quantitative", "scale": {"domain": [-0.03, 0.52], "nice": false, "zero": false}, "axis": {"values": [0,0.05,0.1,0.15,0.2,0.25,0.3,0.35,0.4,0.45,0.5], "labelExpr": "round(datum.value*20) % 2 === 0 ? format(datum.value, '.1f') : ''", "tickOpacity": {"condition": {"test": "round(datum.value*20) % 2 === 0", "value": 1}, "value": 0}, "gridColor": {"condition": {"test": "round(datum.value*20) % 2 === 0", "value": "#e0e0e0"}, "value": "#f0f0f0"}, "title": null}},
  "color": {"field": "x", "type": "quantitative", "scale": {"domain": [0,15,35,55,75,95,110,125,150,175], "range": ["#FFE000","#FFC800","#FFAA00","#FF8C00","#FF7A00","#FF8A00","#FFA000","#FFB800","#FFC800","#FFD400"]}, "legend": null}
 }},
{"width": 14, "height": 54, "data": {"values": [{"gen": "8"}]}, "mark": {"type": "text", "angle": 90, "fontSize": 11, "color": "#1a1a1a"}, "encoding": {"text": {"field": "gen"}}, "view": {"fill": "#cccccc", "stroke": "#999999"}}
], "spacing": 1},
{"hconcat": [
{"width": 393, "height": 54,
 "encoding": {
  "x": {"field": "x", "type": "quantitative", "scale": {"domain": [-9, 185], "nice": false, "zero": false}, "axis": {"values": [0,25,50,75,100,125,150,175], "labels": false, "ticks": false, "domain": false, "title": null, "gridColor": {"condition": {"test": "datum.value % 50 === 0", "value": "#e0e0e0"}, "value": "#f0f0f0"}}},
  "y": {"field": "y", "type": "quantitative", "scale": {"domain": [-0.03, 0.52], "nice": false, "zero": false}, "axis": {"values": [0,0.05,0.1,0.15,0.2,0.25,0.3,0.35,0.4,0.45,0.5], "labelExpr": "round(datum.value*20) % 2 === 0 ? format(datum.value, '.1f') : ''", "tickOpacity": {"condition": {"test": "round(datum.value*20) % 2 === 0", "value": 1}, "value": 0}, "gridColor": {"condition": {"test": "round(datum.value*20) % 2 === 0", "value": "#e0e0e0"}, "value": "#f0f0f0"}, "title": null}}
 },
 "layer": [
 {"data": {"name": "blue"}, "transform": [{"filter": "datum.g == 12"}], "mark": {"type": "rect", "color": "#87CEFA", "opacity": 1},
  "encoding": {"x2": {"field": "xe"}, "y2": {"field": "ye"}}},
 {"data": {"name": "g12"},
 "mark": {"type": "circle", "size": 12, "opacity": 1},
 "encoding": {
  "color": {"field": "x", "type": "quantitative", "scale": {"domain": [0,15,35,55,75,95,110,125,150,175], "range": ["#FFE000","#FFC800","#FFAA00","#FF8C00","#FF7A00","#FF8A00","#FFA000","#FFB800","#FFC800","#FFD400"]}, "legend": null}
 }}]},
{"width": 14, "height": 54, "data": {"values": [{"gen": "12"}]}, "mark": {"type": "text", "angle": 90, "fontSize": 11, "color": "#1a1a1a"}, "encoding": {"text": {"field": "gen"}}, "view": {"fill": "#cccccc", "stroke": "#999999"}}
], "spacing": 1},
{"hconcat": [
{"width": 393, "height": 54,
 "encoding": {
  "x": {"field": "x", "type": "quantitative", "scale": {"domain": [-9, 185], "nice": false, "zero": false}, "axis": {"values": [0,25,50,75,100,125,150,175], "labelExpr": "datum.value % 50 === 0 ? datum.label : ''", "tickOpacity": {"condition": {"test": "datum.value % 50 === 0", "value": 1}, "value": 0}, "domain": false, "title": "Position(Mb)", "gridColor": {"condition": {"test": "datum.value % 50 === 0", "value": "#e0e0e0"}, "value": "#f0f0f0"}}},
  "y": {"field": "y", "type": "quantitative", "scale": {"domain": [-0.03, 0.52], "nice": false, "zero": false}, "axis": {"values": [0,0.05,0.1,0.15,0.2,0.25,0.3,0.35,0.4,0.45,0.5], "labelExpr": "round(datum.value*20) % 2 === 0 ? format(datum.value, '.1f') : ''", "tickOpacity": {"condition": {"test": "round(datum.value*20) % 2 === 0", "value": 1}, "value": 0}, "gridColor": {"condition": {"test": "round(datum.value*20) % 2 === 0", "value": "#e0e0e0"}, "value": "#f0f0f0"}, "title": null}}
 },
 "layer": [
 {"data": {"name": "blue"}, "transform": [{"filter": "datum.g == 16"}], "mark": {"type": "rect", "color": "#87CEFA", "opacity": 1},
  "encoding": {"x2": {"field": "xe"}, "y2": {"field": "ye"}}},
 {"data": {"name": "g16"},
 "mark": {"type": "circle", "size": 12, "opacity": 1},
 "encoding": {
  "color": {"field": "x", "type": "quantitative", "scale": {"domain": [0,15,35,55,75,95,110,125,150,175], "range": ["#FFE000","#FFC800","#FFAA00","#FF8C00","#FF7A00","#FF8A00","#FFA000","#FFB800","#FFC800","#FFD400"]}, "legend": null}
 }}]},
{"width": 14, "height": 54, "data": {"values": [{"gen": "16"}]}, "mark": {"type": "text", "angle": 90, "fontSize": 11, "color": "#1a1a1a"}, "encoding": {"text": {"field": "gen"}}, "view": {"fill": "#cccccc", "stroke": "#999999"}}
], "spacing": 1}
]}
],
"config": {
 "font": "Liberation Sans",
 "view": {"stroke": "#808080", "strokeWidth": 1},
 "axis": {"labelFontSize": 8.5, "labelColor": "#4d4d4d", "tickColor": "#333333", "tickSize": 4, "labelPadding": 2, "domain": false, "titleFontSize": 10, "titleFontWeight": "bold", "titleColor": "#000000", "titlePadding": 3, "gridWidth": 1, "minExtent": 0},
 "axisY": {"offset": 4, "tickSize": 5, "labelPadding": 4, "minExtent": 0},
 "axisX": {"labelAngle": 0}
}
}
